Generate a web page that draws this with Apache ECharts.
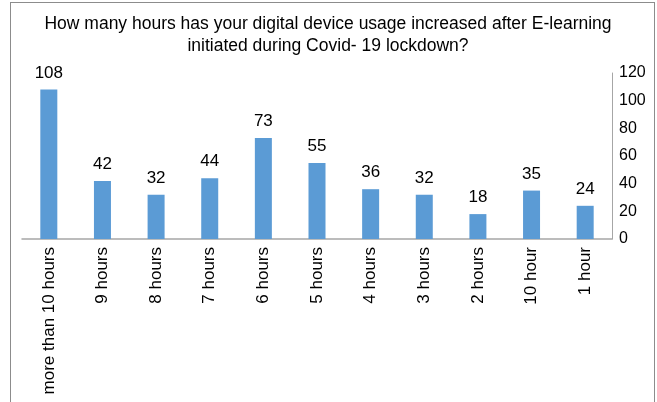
<!DOCTYPE html>
<html><head><meta charset="utf-8">
<script src="https://cdn.jsdelivr.net/npm/echarts@6/dist/echarts.min.js"></script>
<style>
html,body{margin:0;padding:0;background:#fff;}
#frame{position:absolute;left:10px;top:2px;width:645px;height:420px;border:1px solid #8c8c8c;box-sizing:border-box;}
#c{position:absolute;left:0;top:0;width:657px;height:402px;}
</style></head>
<body>
<div id="frame"></div>
<div id="c"></div>
<script>
const categories = ["more than 10 hours","9 hours","8 hours","7 hours","6 hours","5 hours","4 hours","3 hours","2 hours","10 hour","1 hour"];
const values = [108,42,32,44,73,55,36,32,18,35,24];
const titleText = "How many hours has your digital device usage increased after E-learning\ninitiated during Covid- 19 lockdown?";

const FF = 'Liberation Sans, Arial';
const chart = echarts.init(document.getElementById('c'));
chart.setOption({
  animation:false,
  title:{text:titleText,left:323,top:8,textAlign:'center',
    textStyle:{fontFamily:FF,fontSize:17.5,fontWeight:'normal',color:'#000',lineHeight:22}},
  grid:{left:22,right:45,top:73,bottom:163,containLabel:false},
  xAxis:{type:'category',data:categories,
    axisLine:{lineStyle:{color:'#a6a6a6',width:1.5}},
    axisTick:{show:false},
    axisLabel:{rotate:90,interval:0,margin:8,color:'#000',fontSize:17,fontFamily:FF}},
  yAxis:{type:'value',position:'right',min:0,max:120,interval:20,
    axisLine:{show:true,lineStyle:{color:'#a6a6a6'}},
    axisTick:{show:false},
    splitLine:{show:false},
    axisLabel:{margin:7,color:'#000',fontSize:16,fontFamily:FF}},
  series:[{type:'bar',data:values,barWidth:17,
    itemStyle:{color:'#5b9bd5'},
    label:{show:true,position:'top',distance:8,color:'#000',fontSize:17,fontFamily:FF}}]
});
</script>
</body></html>
